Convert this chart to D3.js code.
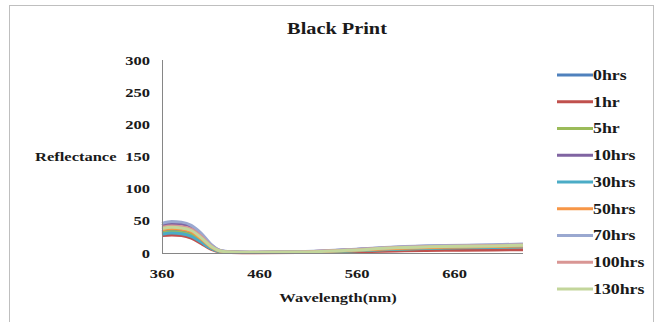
<!DOCTYPE html>
<html>
<head>
<meta charset="utf-8">
<script src="https://cdn.jsdelivr.net/npm/d3@7"></script>
<style>
  body { margin: 0; background: #fff; }
  text { font-family: "Liberation Serif", "Times New Roman", serif; font-weight: bold; fill: #1a1a1a; }
</style>
</head>
<body>
<div id="chart"></div>
<script>
// wavelengths (nm) shared by every series
var wavelengths = [360, 370, 380, 390, 400, 410, 420, 430, 450, 500, 550, 600, 650, 700, 730];

var seriesNames = ["0hrs", "1hr", "5hr", "10hrs", "30hrs", "50hrs", "70hrs", "100hrs", "130hrs"];
var seriesColors = ["#4f81bd", "#c0504d", "#9bbb59", "#8064a2", "#4bacc6", "#f79646", "#9aa8d0", "#d99694", "#c3d69b"];

var r0hrs   = [33, 35, 34, 30, 20, 8.5, 2.4, 1.1, 0.8, 1.2, 3.4, 6.5, 8.5, 9.5, 10.5];
var r1hr    = [27, 28, 27, 23, 15, 6, 1.5, 0.6, 0.4, 0.6, 1.8, 3.2, 4.2, 4.8, 5.2];
var r5hr    = [31, 33, 32, 28, 19, 8, 2.2, 1, 0.7, 1.1, 3.2, 6, 8, 9, 10];
var r10hrs  = [43, 46, 45, 41, 29, 13, 3.6, 1.8, 1.2, 1.8, 5, 9, 11, 12.2, 13.2];
var r30hrs  = [29, 31, 30, 26, 17, 7, 2, 0.9, 0.6, 1, 3, 5.8, 7.6, 8.6, 9.6];
var r50hrs  = [36, 38, 37, 33, 22, 9.5, 2.8, 1.3, 0.9, 1.3, 3.8, 7, 9, 10, 11];
var r70hrs  = [46, 49, 48, 43, 31, 14, 3.8, 1.9, 1.3, 2, 5.4, 9.5, 11.6, 12.8, 14];
var r100hrs = [40, 42, 41, 37, 26, 11.5, 3.2, 1.6, 1.1, 1.6, 4.6, 8.5, 10.5, 11.5, 12.5];
var r130hrs = [38, 40, 39, 35, 24, 10.5, 3, 1.4, 1, 1.5, 4.2, 8, 10, 11, 12];

var seriesValues = [r0hrs, r1hr, r5hr, r10hrs, r30hrs, r50hrs, r70hrs, r100hrs, r130hrs];
var xTicks = [360, 460, 560, 660];
var yTicks = [0, 50, 100, 150, 200, 250, 300];

var width = 664, height = 322;
var sx = 1.27; // the reference text is stretched horizontally

var svg = d3.select("#chart").append("svg")
    .attr("width", width)
    .attr("height", height);

// chart frame
svg.append("rect")
    .attr("x", 9.5).attr("y", 5.5)
    .attr("width", 644).attr("height", 330)
    .attr("fill", "#fff")
    .attr("stroke", "#bfbfbf");

var x = d3.scaleLinear().domain([360, 730]).range([162, 523]);
var y = d3.scaleLinear().domain([0, 300]).range([253, 60]);

var lineGen = d3.line()
    .x(function(d, i) { return x(wavelengths[i]); })
    .y(function(d) { return y(d); })
    .curve(d3.curveMonotoneX);

svg.append("g")
  .selectAll("path")
  .data(seriesValues)
  .join("path")
    .attr("fill", "none")
    .attr("stroke", function(d, i) { return seriesColors[i]; })
    .attr("stroke-width", 3)
    .attr("stroke-linejoin", "round")
    .attr("d", lineGen);

// axes
svg.append("line")
    .attr("x1", 162.5).attr("x2", 162.5)
    .attr("y1", y(300)).attr("y2", y(0))
    .attr("stroke", "#868686");
svg.append("line")
    .attr("x1", 162).attr("x2", x(730))
    .attr("y1", y(0) + 0.5).attr("y2", y(0) + 0.5)
    .attr("stroke", "#868686");

function label(g, tx, ty, anchor, size) {
  return g.append("text")
      .attr("transform", "translate(" + tx + "," + ty + ") scale(" + sx + ",1)")
      .attr("text-anchor", anchor)
      .attr("dy", "0.35em")
      .attr("font-size", size);
}

yTicks.forEach(function(d) {
  label(svg, 150, y(d), "end", 13).text(d);
});

xTicks.forEach(function(d) {
  label(svg, x(d), 273, "middle", 13).text(d);
});

label(svg, 337, 28, "middle", 16).text("Black Print");
label(svg, 35, y(150), "start", 13).text("Reflectance");
label(svg, 338, 297, "middle", 13).text("Wavelength(nm)");

// legend
seriesNames.forEach(function(name, i) {
  var ly = 75 + i * 26.75;
  svg.append("line")
      .attr("x1", 557).attr("x2", 593)
      .attr("y1", ly).attr("y2", ly)
      .attr("stroke", seriesColors[i])
      .attr("stroke-width", 3);
  label(svg, 593, ly, "start", 14).text(name);
});
</script>
</body>
</html>
